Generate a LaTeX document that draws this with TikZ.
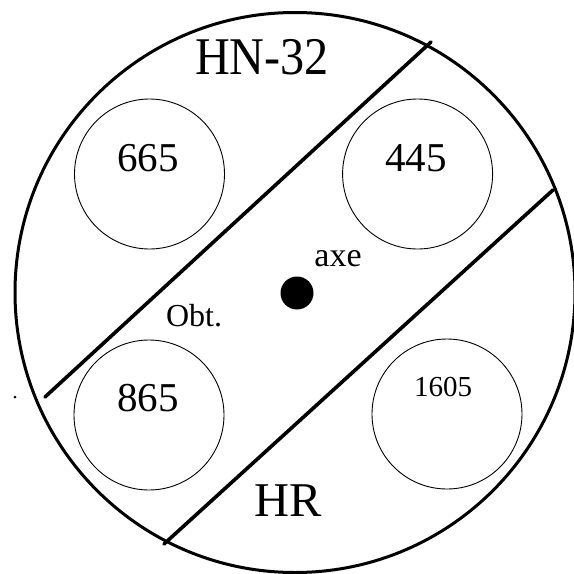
\documentclass[tikz,border=0pt]{standalone}
\usepackage{graphicx}
\usepackage{fontspec}
\setmainfont{Liberation Serif}
\begin{document}
\begin{tikzpicture}[x=1pt,y=-1pt,
  outer/.style={line width=3pt},
  divider/.style={line width=3.6pt,line cap=round},
  pocket/.style={circle,draw,line width=0.9pt,minimum size=150pt,inner sep=0pt},
  lbl/.style={inner sep=0pt,anchor=center},
  ]
\useasboundingbox (0,0) rectangle (574,574);
\fill[white] (0,0) rectangle (574,574);
% outer disc
\node[circle,draw,outer,minimum size=560pt,inner sep=0pt] (disc) at (295,292.5) {};
% dividing lines
\coordinate (l1a) at (45,397);
\coordinate (l1b) at (431,42);
\coordinate (l2a) at (164,544);
\coordinate (l2b) at (553,190);
\draw[divider] (l1a) -- (l1b);
\draw[divider] (l2a) -- (l2b);
% pockets
\node[pocket] (p665) at (149.5,174) {};
\node[pocket] (p445) at (417.6,174) {};
\node[pocket] (p865) at (149,415) {};
\node[pocket] (p1605) at (447,414) {};
% axis
\fill (297,293) circle (16.5pt);
\node[lbl] (axis) at (297,293) {};
% stray dot
\fill (15,397) circle (1.5pt);
% labels
\node[lbl,font=\fontsize{53}{53}\selectfont] (hn) at (262,57.5) {\scalebox{0.91}[1]{HN-32}};
\node[lbl,font=\fontsize{48.5}{48.5}\selectfont] (hr) at (288,501) {HR};
\node[lbl,font=\fontsize{41}{41}\selectfont] (t665) at (148,158) {665};
\node[lbl,font=\fontsize{41}{41}\selectfont] (t445) at (416,158) {445};
\node[lbl,font=\fontsize{41}{41}\selectfont] (t865) at (148,398) {865};
\node[lbl,font=\fontsize{29}{29}\selectfont] (t1605) at (443,387) {1605};
\node[lbl,font=\fontsize{34}{34}\selectfont] (taxe) at (338,259) {axe};
\node[lbl,font=\fontsize{32}{32}\selectfont] (tobt) at (194,316) {Obt.};
\end{tikzpicture}
\end{document}
